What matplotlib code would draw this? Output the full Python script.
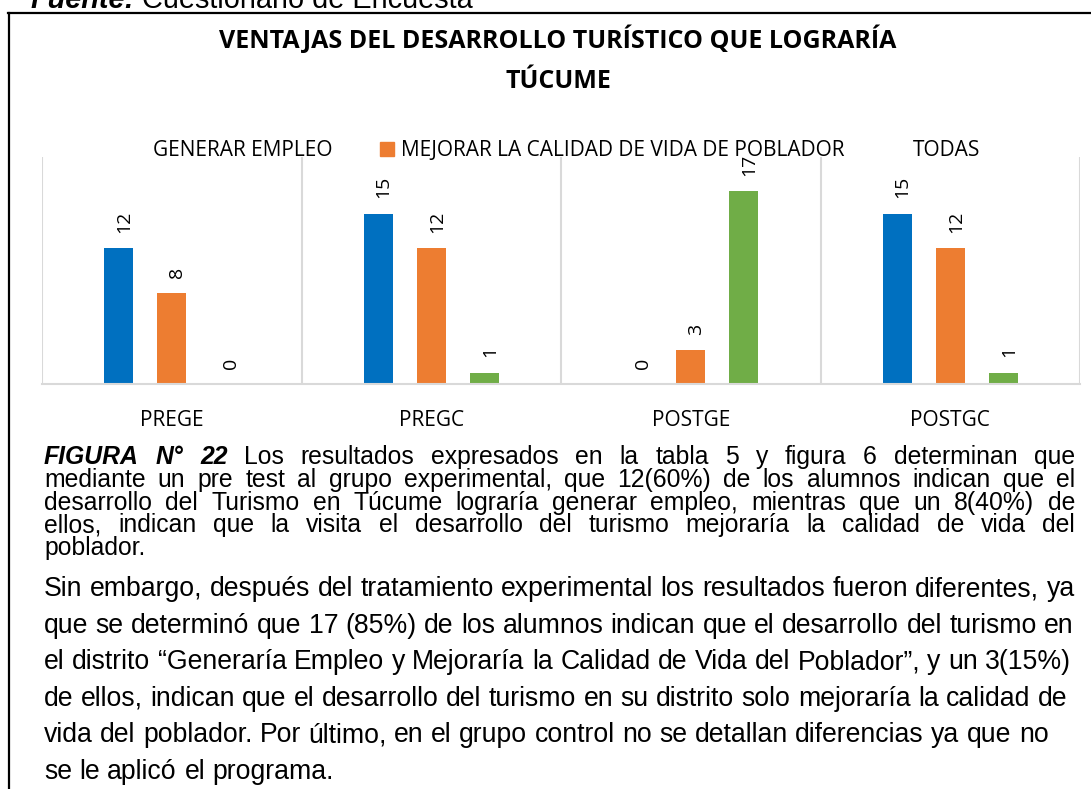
import matplotlib.pyplot as plt
import numpy as np
from matplotlib.patches import Patch
from matplotlib.lines import Line2D

categories = ["PREGE", "PREGC", "POSTGE", "POSTGC"]
series_names = ["GENERAR EMPLEO", "MEJORAR LA CALIDAD DE VIDA DE POBLADOR", "TODAS"]
generar = [12, 15, 0, 15]
mejorar = [8, 12, 3, 12]
todas = [0, 1, 17, 1]
colors = ["#0070C0", "#ED7D31", "#70AD47"]

title_lines = ["VENTAJAS DEL DESARROLLO TURÍSTICO QUE LOGRARÍA", "TÚCUME"]

# first paragraph (justified, last line left)
para1 = [
    "FIGURA N° 22 Los resultados expresados en la tabla 5 y figura 6 determinan que",
    "mediante un pre test al grupo experimental, que 12(60%) de los alumnos indican que el",
    "desarrollo del Turismo en Túcume lograría generar empleo, mientras que un 8(40%) de",
    "ellos, indican que la visita el desarrollo del turismo mejoraría la calidad de vida del",
    "poblador.",
]
para2 = [
    "Sin embargo, después del tratamiento experimental los resultados fueron diferentes, ya",
    "que se determinó que 17 (85%) de los alumnos indican que el desarrollo del turismo en",
    "el distrito “Generaría Empleo y Mejoraría la Calidad de Vida del Poblador”, y un 3(15%)",
    "de ellos, indican que el desarrollo del turismo en su distrito solo mejoraría la calidad de",
    "vida del poblador. Por último, en el grupo control no se detallan diferencias ya que no",
    "se le aplicó el programa.",
]

plt.rcParams["font.family"] = "Open Sans"
W, H = 1091, 789
fig = plt.figure(figsize=(W / 100, H / 100), dpi=100)
renderer = fig.canvas.get_renderer()


def fx(px):
    return px / W


def fy(py):
    return 1 - py / H


# page frame
fig.add_artist(Line2D([fx(8), 1], [fy(13), fy(13)], color="black", lw=1.6))
fig.add_artist(Line2D([fx(9), fx(9)], [fy(13), 0], color="black", lw=1.6))

body = ["Liberation Sans", "DejaVu Sans"]


def text_width(s, size, **kw):
    t = fig.text(0, 0, s, fontsize=size, family=body, **kw)
    wd = t.get_window_extent(renderer).width
    t.remove()
    return wd


fsize = 20.8
f1 = fig.text(fx(30), fy(8), "Fuente:", fontsize=fsize, family=body, weight="bold",
              style="italic", va="baseline")
fw = f1.get_window_extent(renderer).width
fsp = text_width("a a", fsize) - text_width("aa", fsize)
fig.text(fx(30 + fw + fsp), fy(8), "Cuestionario de Encuesta", fontsize=fsize,
         family=body, va="baseline")

# title
fig.text(fx(558), fy(40), title_lines[0], ha="center", va="center",
         fontsize=18, weight="bold")
fig.text(fx(558), fy(81), title_lines[1], ha="center", va="center",
         fontsize=18, weight="bold")

# chart
ax = fig.add_axes([fx(42), fy(384), fx(1080) - fx(42), fy(157) - fy(384)])
x = np.arange(len(categories))
w = 0.112
step = 0.205
for i, (vals, c, name) in enumerate(zip([generar, mejorar, todas], colors, series_names)):
    pos = x + (i - 1) * step
    ax.bar(pos, vals, w, color=c, label=name, zorder=2)
    for xp, v in zip(pos, vals):
        ax.annotate(str(v), (xp, v), xytext=(4, 11), textcoords="offset points",
                    rotation=90, ha="center", va="bottom", fontsize=14)
ax.set_xlim(-0.5, 3.5)
ax.set_ylim(0, 20)
ax.set_yticks([])
for s in ["left", "top", "right"]:
    ax.spines[s].set_visible(False)
ax.spines["bottom"].set_color("#D9D9D9")
ax.spines["bottom"].set_linewidth(1.5)
for b in np.arange(-0.5, 4, 1):
    ax.axvline(b, color="#D9D9D9", lw=1.5, zorder=0)
ax.set_xticks(x, categories)
ax.tick_params(axis="x", length=0, pad=19, labelsize=15)

handles = [Patch(color=c) for c in colors]
leg = fig.legend(handles, series_names, loc="center", bbox_to_anchor=(fx(556), fy(151)),
                 ncol=3, frameon=False, fontsize=15, handlelength=0.68,
                 handleheight=0.68, handletextpad=0.34, columnspacing=2.25)
for i in (0, 2):
    leg.legend_handles[i].set_visible(False)

# paragraphs
x0, x1 = 44, 1075


def put_line(line, ybase, size, justify):
    words = line.split(" ")
    texts = []
    for k, wd in enumerate(words):
        bold = line.startswith("FIGURA") and k < 3
        t = fig.text(0, fy(ybase), wd, fontsize=size, family=body, va="baseline",
                     weight="bold" if bold else "normal",
                     style="italic" if bold else "normal")
        texts.append(t)
    widths = [t.get_window_extent(renderer).width for t in texts]
    if justify and len(words) > 1:
        gap = (x1 - x0 - sum(widths)) / (len(words) - 1)
    else:
        gap = text_width("a a", size) - text_width("aa", size)
    xp = x0
    for t, wd in zip(texts, widths):
        t.set_x(fx(xp))
        xp += wd + gap


for k, line in enumerate(para1):
    put_line(line, 464 + 22.8 * k, 17.8, k < len(para1) - 1)
for k, line in enumerate(para2):
    put_line(line, 596 + 36.6 * k, 19.2, False)

fig.savefig("out.png", dpi=100)
